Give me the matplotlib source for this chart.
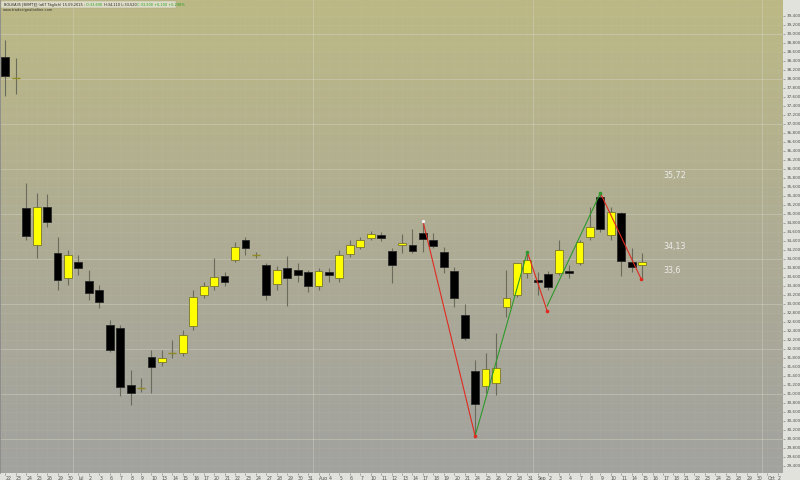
import numpy as np
import matplotlib.pyplot as plt
import matplotlib as mpl
from matplotlib.colors import LinearSegmentedColormap
from matplotlib.patches import Rectangle

mpl.rcParams['font.family'] = ['DejaVu Sans']

# x axis day labels (business days 22 Jun - 2 Oct 2015)
days = ['22', '23', '24', '25', '26', '29', '30', 'Jul', '2', '3', '6', '7', '8', '9', '10',
        '13', '14', '15', '16', '17', '20', '21', '22', '23', '24', '27', '28', '29', '30', '31',
        'Aug', '4', '5', '6', '7', '10', '11', '12', '13', '14', '17', '18', '19', '20', '21',
        '24', '25', '26', '27', '28', '31',
        'Sep', '2', '3', '4', '7', '8', '9', '10', '11', '14', '15', '16', '17', '18',
        '21', '22', '23', '24', '25', '28', '29', '30', 'Oct', '2']
month_starts = [7, 30, 51, 73]

# daily candles
opens = [38.49, 38.01, 35.13, 34.30, 35.15, 34.13, 33.57, 33.93, 33.51, 33.30,
         32.53, 32.46, 31.19, 31.13, 31.82, 31.71, 31.91, 31.91, 32.51, 33.19,
         33.39, 33.62, 33.97, 34.42, 34.08, 33.86, 33.44, 33.79, 33.75, 33.71,
         33.39, 33.71, 33.57, 34.11, 34.26, 34.46, 34.53, 34.17, 34.30, 34.30,
         34.57, 34.42, 34.15, 33.73, 32.75, 31.51, 31.17, 31.24, 32.93, 33.19,
         33.68, 33.53, 33.66, 33.68, 33.73, 33.90, 34.48, 35.37, 34.53, 35.02,
         33.93, 33.86]
closes = [38.06, 38.01, 34.50, 35.15, 34.82, 33.53, 34.08, 33.79, 33.24, 33.04,
          31.97, 31.15, 31.02, 31.13, 31.59, 31.79, 31.91, 32.31, 33.15, 33.39,
          33.59, 33.48, 34.26, 34.24, 34.08, 33.19, 33.75, 33.57, 33.64, 33.39,
          33.73, 33.64, 34.08, 34.30, 34.42, 34.55, 34.46, 33.86, 34.35, 34.17,
          34.44, 34.28, 33.82, 33.13, 32.24, 30.77, 31.55, 31.57, 33.13, 33.90,
          33.97, 33.48, 33.37, 34.19, 33.68, 34.37, 34.71, 34.66, 35.04, 33.95,
          33.82, 33.93]
highs = [38.86, 38.45, 35.68, 35.46, 35.44, 34.48, 34.19, 34.08, 33.75, 33.42,
         32.64, 32.53, 31.53, 31.35, 31.97, 31.97, 32.19, 32.42, 33.30, 33.48,
         34.02, 33.71, 34.37, 34.48, 34.15, 33.90, 33.84, 34.06, 33.90, 33.75,
         33.79, 33.79, 34.19, 34.42, 34.48, 34.62, 34.59, 34.24, 34.55, 34.66,
         34.84, 34.57, 34.26, 33.82, 32.99, 31.75, 31.91, 32.35, 33.75, 33.90,
         34.17, 33.71, 33.73, 34.42, 33.86, 34.42, 35.15, 35.48, 35.15, 35.04,
         34.24, 34.13]
lows = [37.62, 37.65, 34.42, 34.02, 34.70, 33.30, 33.42, 33.64, 33.08, 32.91,
        31.93, 30.95, 30.75, 31.04, 31.02, 31.62, 31.79, 31.84, 32.42, 33.13,
        33.30, 33.39, 33.93, 34.08, 34.02, 33.08, 33.30, 32.95, 33.48, 33.26,
        33.30, 33.48, 33.48, 34.04, 34.22, 34.42, 34.39, 33.46, 34.13, 34.13,
        34.15, 34.24, 33.68, 32.93, 32.19, 30.04, 31.02, 30.97, 32.71, 33.15,
        33.57, 33.19, 33.30, 33.64, 33.57, 33.86, 34.42, 34.59, 34.42, 33.62,
        33.71, 33.53]

# zigzag swings: (x0, y0, x1, y1, colour)
zigzag = [(40.0, 34.84, 45.0, 30.06, '#e02a20'),
          (45.0, 30.06, 50.0, 34.15, '#2e9a2a'),
          (50.0, 34.15, 51.9, 32.84, '#e02a20'),
          (51.9, 32.95, 57.0, 35.46, '#2e9a2a'),
          (57.0, 35.46, 60.9, 33.55, '#e02a20')]

level_values = [35.72, 34.13, 33.6]
level_labels = ['35,72', '34,13', '33,6']

header_parts = [('BOLVIA35 [BVMT][] (a67 Täglich) 15.09.2015 : ', '#202020'),
                ('O:33,690 ', '#1f9e1f'),
                ('H:34,110 L:33,520 ', '#202020'),
                ('C:33,900 +0,100 +0,298%', '#1f9e1f')]

fig = plt.figure(figsize=(8, 4.8), dpi=100, facecolor='#e2e2dc')
ax = fig.add_axes([0, 1 - 473 / 480, 783 / 800, 473 / 480])

# background gradient
cm = LinearSegmentedColormap.from_list('bg', ['#a2a29f', '#aeac94', '#bcb985'])
grad = np.linspace(0, 1, 256).reshape(-1, 1)
ax.imshow(grad, extent=[0, 1, 0, 1], transform=ax.transAxes, aspect='auto',
          cmap=cm, origin='lower', zorder=0)

# grid
for v in np.arange(29.4, 39.8, 0.2):
    ax.axhline(v, color='#d4d4c4', lw=0.4, alpha=0.15, zorder=1)
for v in range(30, 40):
    ax.axhline(v, color='#d4d4c4', lw=0.6, alpha=0.45, zorder=1)
for i in range(len(days)):
    ax.axvline(i, color='#d4d4c4', lw=0.4, alpha=0.12, zorder=1)
for i in month_starts:
    ax.axvline(i - 0.5, color='#d4d4c4', lw=0.6, alpha=0.5, zorder=1)

# candles
x = np.arange(len(opens))
o = np.array(opens)
c = np.array(closes)
ax.vlines(x, lows, highs, color='#6b6b5c', lw=0.8, zorder=2)
up = c > o
down = c < o
flat = c == o
ax.bar(x[up], (c - o)[up], bottom=o[up], width=0.75, color='#ffff00',
       edgecolor='#77772e', lw=0.6, zorder=3)
ax.bar(x[down], (o - c)[down], bottom=c[down], width=0.75, color='#000000',
       edgecolor='#2a2a2a', lw=0.6, zorder=3)
ax.hlines(o[flat], x[flat] - 0.38, x[flat] + 0.38, color='#8f8a22', lw=1.0, zorder=3)

# zigzag
for x0, y0, x1, y1, col in zigzag:
    ax.plot([x0, x1], [y0, y1], color=col, lw=0.8, zorder=4)
    ax.plot(x1, y1, 'o', color=col, ms=1.6, zorder=5)
ax.plot(zigzag[0][0], zigzag[0][1], 'o', color='#f0f0f0', ms=1.4, zorder=5)

# level labels
for v, lab in zip(level_values, level_labels):
    ax.text(63.0, v + 0.04, lab, fontsize=5.8, color='#ececea', ha='left', va='bottom', zorder=6)

ax.set_xlim(-0.508, 74.49)
ax.set_ylim(29.238, 39.749)

# axes
ax.yaxis.tick_right()
yt = np.round(np.arange(29.4, 39.41, 0.2), 1)
ax.set_yticks(yt)
ax.set_yticklabels([f'{v:.3f}'.replace('.', ',') for v in yt])
ax.tick_params(axis='y', labelsize=3.0, length=1.5, pad=1, colors='#6a6a6a',
               labelcolor='#505050', width=0.4)
ax.set_xticks(range(len(days)))
ax.set_xticklabels(days, ha='left')
ax.tick_params(axis='x', labelsize=3.3, length=1.5, pad=0.8, colors='#6a6a6a',
               labelcolor='#505050', width=0.4)
for s in ['top', 'right', 'bottom']:
    ax.spines[s].set_visible(False)
ax.spines['left'].set_color('#8a8a8a')
ax.spines['left'].set_linewidth(1.2)

# header (kept inside the axes so the box sits under the text)
ax.add_patch(Rectangle((0.001, 1 - 8 / 480), 175 / 800, 7 / 480, transform=fig.transFigure,
                       facecolor='#dedcc6', edgecolor='#a8a68a', lw=0.3, zorder=10, clip_on=False))
hy = 1 - 4.6 / 480
prev = ax.text(4 / 800, hy, header_parts[0][0], fontsize=2.5, color=header_parts[0][1],
               va='center', transform=fig.transFigure, zorder=11, clip_on=False)
for txt, col in header_parts[1:]:
    prev = ax.annotate(txt, xy=(1, 0.5), xycoords=prev, xytext=(0, 0), textcoords='offset points',
                       fontsize=2.5, color=col, va='center', ha='left', annotation_clip=False,
                       zorder=11)
ax.text(3 / 800, 1 - 10.5 / 480, 'www.tradesignalonline.com', fontsize=2.6, color='#303030',
        va='center', transform=fig.transFigure, zorder=11, clip_on=False)

fig.savefig('out.png', dpi=100, facecolor=fig.get_facecolor())
